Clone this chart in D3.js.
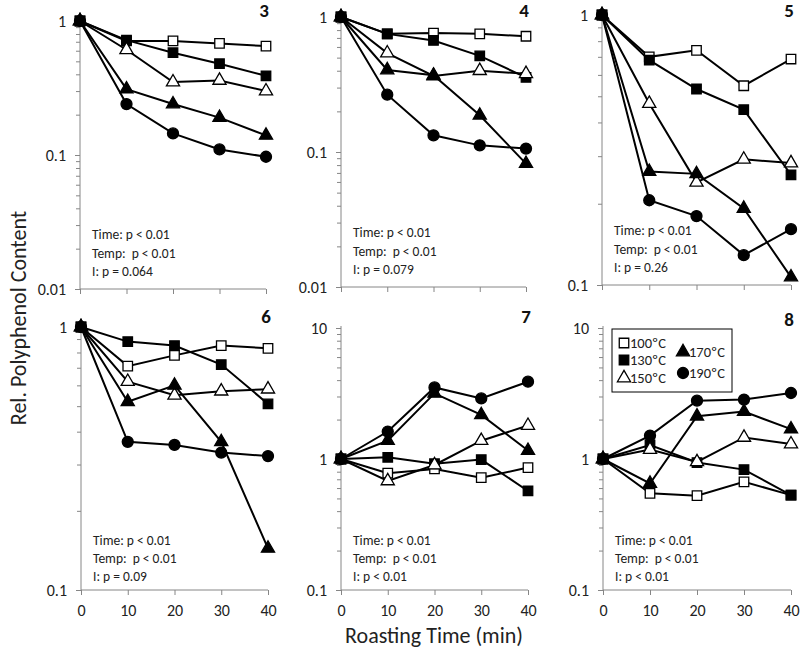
<!DOCTYPE html>
<html><head><meta charset="utf-8">
<script src="https://cdn.jsdelivr.net/npm/d3@7"></script>
<style>body{margin:0;background:#fff} svg{display:block}</style>
</head><body><svg id="c" width="800" height="657"></svg>
<script>
// ---------------- data ----------------
const times = [0, 10, 20, 30, 40];
const temps = ["100ºC", "130ºC", "150ºC", "170ºC", "190ºC"];
const panelIds = ["3", "4", "5", "6", "7", "8"];
// each panel: one array per temperature (100,130,150,170,190)
const panel3 = [
  [1, 0.71, 0.71, 0.68, 0.65],
  [1, 0.72, 0.58, 0.48, 0.39],
  [1, 0.61, 0.35, 0.36, 0.30],
  [1, 0.31, 0.24, 0.19, 0.14],
  [1, 0.24, 0.145, 0.11, 0.097]
];
const panel4 = [
  [1, 0.75, 0.76, 0.75, 0.72],
  [1, 0.75, 0.67, 0.515, 0.357],
  [1, 0.54, 0.366, 0.40, 0.38],
  [1, 0.405, 0.37, 0.187, 0.082],
  [1, 0.266, 0.133, 0.112, 0.106]
];
const panel5 = [
  [1, 0.70, 0.74, 0.547, 0.687],
  [1, 0.68, 0.532, 0.446, 0.256],
  [1, 0.47, 0.24, 0.292, 0.283],
  [1, 0.263, 0.258, 0.192, 0.107],
  [1, 0.206, 0.18, 0.129, 0.161]
];
const panel6 = [
  [1, 0.71, 0.78, 0.85, 0.83],
  [1, 0.88, 0.85, 0.72, 0.51],
  [1, 0.62, 0.55, 0.57, 0.58],
  [1, 0.52, 0.60, 0.366, 0.144],
  [1, 0.366, 0.356, 0.333, 0.323]
];
const panel7 = [
  [1, 0.78, 0.84, 0.72, 0.86],
  [1, 1.03, 0.92, 0.99, 0.57],
  [1, 0.68, 0.90, 1.38, 1.80],
  [1, 1.38, 3.17, 2.17, 1.16],
  [1, 1.62, 3.52, 2.90, 3.89]
];
const panel8 = [
  [1, 0.547, 0.525, 0.67, 0.53],
  [1, 1.28, 0.94, 0.83, 0.53],
  [1, 1.18, 0.95, 1.46, 1.30],
  [1, 0.65, 2.12, 2.30, 1.69],
  [1, 1.51, 2.79, 2.84, 3.19]
];
const stats3 = ["Time: p < 0.01", "Temp:  p < 0.01", "I: p = 0.064"];
const stats4 = ["Time: p < 0.01", "Temp:  p < 0.01", "I: p = 0.079"];
const stats5 = ["Time: p < 0.01", "Temp:  p < 0.01", "I: p = 0.26"];
const stats6 = ["Time: p < 0.01", "Temp:  p < 0.01", "I: p = 0.09"];
const stats7 = ["Time: p < 0.01", "Temp:  p < 0.01", "I: p < 0.01"];
const stats8 = ["Time: p < 0.01", "Temp:  p < 0.01", "I: p < 0.01"];
const yTicks3 = [0.01, 0.1, 1];
const yTicks5 = [0.1, 1];
const yTicks7 = [0.1, 1, 10];
const xTickLabels = ["0", "10", "20", "30", "40"];
const xTitle = "Roasting Time (min)";
const yTitle = "Rel. Polyphenol Content";

// ---------------- layout ----------------
const panelData = [panel3, panel4, panel5, panel6, panel7, panel8];
const panelStats = [stats3, stats4, stats5, stats6, stats7, stats8];
const panelTicks = [yTicks3, yTicks3, yTicks5, yTicks5, yTicks7, yTicks7];
const layout = [
  {x0: 80, x1: 266, top: 21, bottom: 289, row: 0, ty: 17},
  {x0: 341, x1: 526, top: 17, bottom: 287, row: 0, ty: 17},
  {x0: 602, x1: 791, top: 15, bottom: 285, row: 0, ty: 17},
  {x0: 81, x1: 268, top: 327, bottom: 590, row: 1, ty: 323},
  {x0: 341, x1: 528, top: 328, bottom: 590, row: 1, ty: 323},
  {x0: 603, x1: 791, top: 328, bottom: 590, row: 1, ty: 326}
];
const FONT = "Carlito, Lato, 'Liberation Sans', sans-serif";
const axisColor = "#868686";

const svg = d3.select("#c");
svg.append("rect").attr("width", 800).attr("height", 657).attr("fill", "#fff");

const symTypes = [d3.symbolSquare, d3.symbolSquare, d3.symbolTriangle, d3.symbolTriangle, d3.symbolCircle];
const symSizes = [90, 90, 75, 75, 95];
const symFill = ["#fff", "#000", "#fff", "#000", "#000"];

function drawMarker(g, i, x, y) {
  g.append("path")
    .attr("d", d3.symbol().type(symTypes[i]).size(symSizes[i])())
    .attr("transform", `translate(${x},${y})`)
    .attr("fill", symFill[i])
    .attr("stroke", "#000")
    .attr("stroke-width", 1.3);
}

layout.forEach((L, p) => {
  const ticks = panelTicks[p];
  const x = d3.scaleLinear().domain([0, 40]).range([L.x0, L.x1]);
  const y = d3.scaleLog().domain([ticks[0], ticks[ticks.length - 1]]).range([L.bottom, L.top]);
  const g = svg.append("g");

  // minor ticks
  const minors = [];
  for (let d = ticks[0]; d < ticks[ticks.length - 1] - 1e-9; d *= 10) {
    for (let k = 2; k <= 9; k++) minors.push(d * k);
  }
  const yMinor = d3.axisLeft(y).tickValues(minors).tickSize(4).tickFormat("");
  const ga = g.append("g").attr("transform", `translate(${L.x0},0)`).call(yMinor);
  ga.select(".domain").remove();
  ga.selectAll("line").attr("stroke", axisColor);

  const yAxis = d3.axisLeft(y).tickValues(ticks).tickSize(5).tickPadding(9)
    .tickFormat(d => d3.format("~g")(d));
  const gy = g.append("g").attr("transform", `translate(${L.x0},0)`).call(yAxis);
  gy.select(".domain").attr("stroke", axisColor).attr("d", `M0,${L.top - 2}V${L.bottom}`);
  gy.selectAll("line").attr("stroke", axisColor);
  gy.selectAll("text").attr("font-family", FONT).attr("font-size", 16).attr("fill", "#222");

  const xAxis = d3.axisBottom(x).tickValues(times).tickSize(5).tickPadding(10)
    .tickFormat((d, i) => L.row === 1 ? xTickLabels[i] : "");
  const gx = g.append("g").attr("transform", `translate(0,${L.bottom})`).call(xAxis);
  gx.select(".domain").attr("stroke", axisColor).attr("d", `M${L.x0},0H${L.x1}`);
  gx.selectAll("line").attr("stroke", axisColor);
  gx.selectAll("text").attr("font-family", FONT).attr("font-size", 16).attr("fill", "#222");

  // panel title
  g.append("text").attr("x", L.x1 + 3).attr("y", L.ty)
    .attr("text-anchor", "end").attr("font-family", FONT).attr("font-weight", "bold")
    .attr("font-size", 19).attr("fill", "#111").text(panelIds[p]);

  // stats
  const offs = L.row === 0 ? [-50, -31, -13] : [-45, -27, -9];
  panelStats[p].forEach((s, k) => {
    g.append("text").attr("x", L.x0 + 12).attr("y", L.bottom + offs[k])
      .attr("font-family", FONT).attr("font-size", 13.5).attr("fill", "#222")
      .attr("xml:space", "preserve").style("white-space", "pre").text(s);
  });

  // series
  const line = d3.line().x((d, i) => x(times[i])).y(d => y(d));
  panelData[p].forEach((series, i) => {
    g.append("path").attr("d", line(series)).attr("fill", "none")
      .attr("stroke", "#000").attr("stroke-width", 2);
    series.forEach((v, j) => drawMarker(g, i, x(times[j]), y(v)));
  });
});

// legend (in panel 8)
const lg = svg.append("g");
lg.append("rect").attr("x", 612).attr("y", 329).attr("width", 120).attr("height", 63)
  .attr("fill", "#fff").attr("stroke", "#000").attr("stroke-width", 1);
const legendPos = [[624, 343], [624, 360], [624, 378], [683, 352], [683, 373]];
temps.forEach((t, i) => {
  const [lx, ly] = legendPos[i];
  drawMarker(lg, i, lx, ly);
  lg.append("text").attr("x", lx + 6).attr("y", ly + 5)
    .attr("font-family", FONT).attr("font-size", 14.5).attr("fill", "#222").text(t);
});

// axis titles
svg.append("text").attr("x", 434).attr("y", 643).attr("text-anchor", "middle")
  .attr("font-family", FONT).attr("font-size", 22).attr("fill", "#222").text(xTitle);
svg.append("text").attr("transform", "translate(26,318) rotate(-90)").attr("text-anchor", "middle")
  .attr("font-family", FONT).attr("font-size", 22).attr("fill", "#222").text(yTitle);
</script>
</body></html>
